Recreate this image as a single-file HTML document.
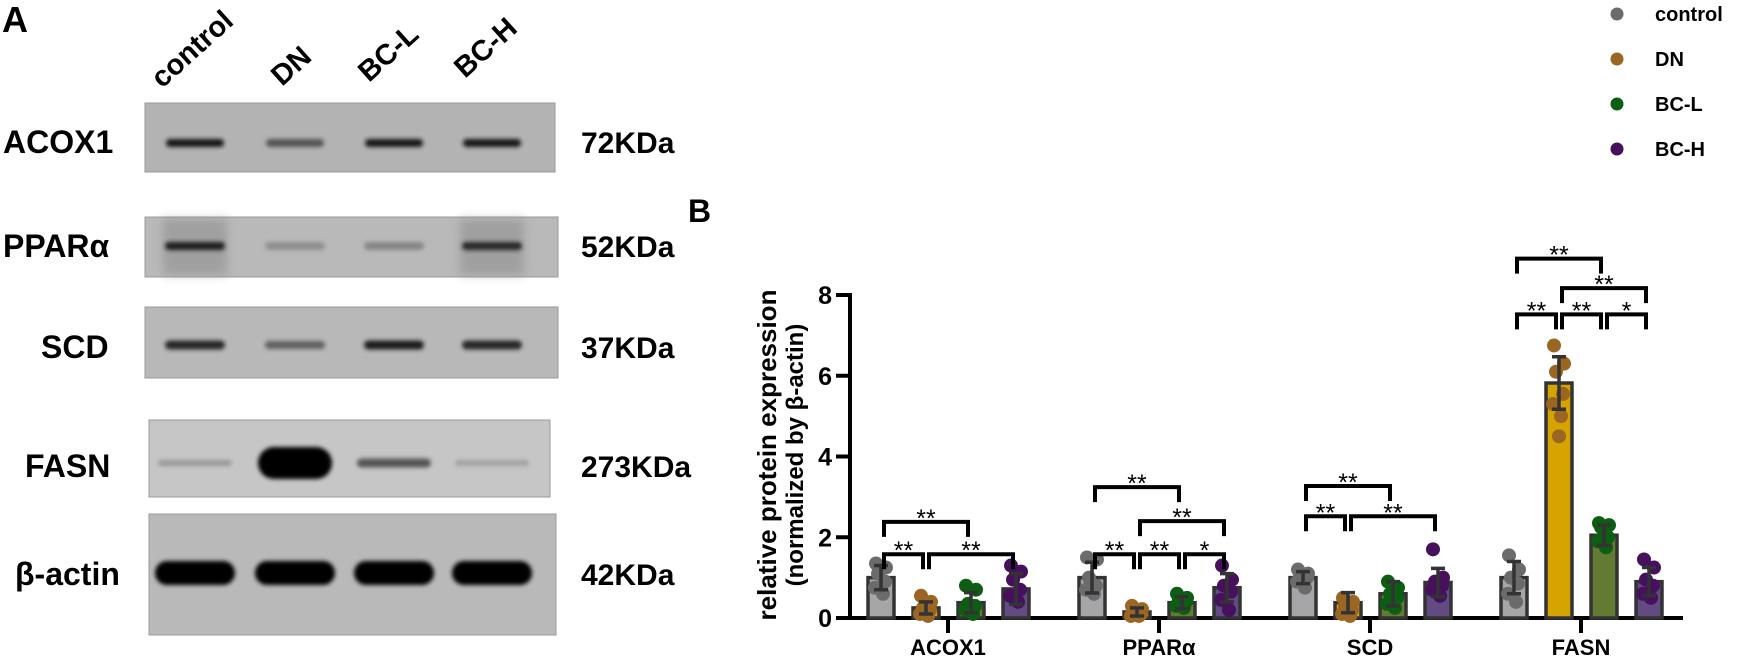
<!DOCTYPE html>
<html><head><meta charset="utf-8"><style>
html,body{margin:0;padding:0;background:#fff;}
svg{display:block;font-family:"Liberation Sans",Arial,sans-serif;}
</style></head><body>
<svg id="fig" width="1748" height="661" viewBox="0 0 1748 661" xmlns="http://www.w3.org/2000/svg">
<defs>
<filter id="blur2" x="-30%" y="-100%" width="160%" height="300%"><feGaussianBlur stdDeviation="2.2"/></filter>
<filter id="blur4" x="-30%" y="-100%" width="160%" height="300%"><feGaussianBlur stdDeviation="5"/></filter>
</defs>
<g id="panelA"></g>
<g id="panelB"></g>
</svg>
<script>
// ---- Chart data ----
const categories = ["ACOX1", "PPARα", "SCD", "FASN"];
const groups = ["control", "DN", "BC-L", "BC-H"];
const meansACOX1 = [1.0, 0.25, 0.38, 0.72];
const meansPPARa = [1.0, 0.15, 0.38, 0.75];
const meansSCD = [1.0, 0.38, 0.6, 0.88];
const meansFASN = [1.0, 5.82, 2.05, 0.9];
const errACOX1 = [0.3, 0.15, 0.25, 0.38];
const errPPARa = [0.38, 0.1, 0.15, 0.35];
const errSCD = [0.15, 0.25, 0.3, 0.35];
const errFASN = [0.4, 0.65, 0.25, 0.35];
const ptsACOX1 = [[1.35,1.25,1.1,0.9,0.75,0.6],[0.55,0.4,0.25,0.2,0.1,0.05],[0.8,0.7,0.35,0.3,0.2,0.1],[1.3,1.15,0.95,0.7,0.55,0.4]];
const ptsPPARa = [[1.5,1.45,1.0,0.8,0.7,0.6],[0.3,0.22,0.15,0.1,0.05,0.05],[0.6,0.5,0.45,0.4,0.3,0.25],[1.3,0.95,0.8,0.65,0.45,0.2]];
const ptsSCD = [[1.2,1.1,1.05,1.0,0.9,0.75],[0.5,0.4,0.3,0.2,0.1,0.05],[0.9,0.75,0.6,0.5,0.35,0.25],[1.7,1.0,0.9,0.8,0.7,0.55]];
const ptsFASN = [[1.55,1.2,1.0,0.85,0.6,0.4],[6.75,6.3,6.1,5.55,5.3,5.0,4.5],[2.35,2.3,2.25,2.0,1.9,1.75],[1.45,1.25,0.95,0.8,0.6,0.5]];
const yTicks = [0, 2, 4, 6, 8];
// brackets: [category index, from group, to group, y value, label]
const brackets = [
 [0,0,1,1.58,"**"],[0,1,3,1.58,"**"],[0,0,2,2.38,"**"],
 [1,0,1,1.58,"**"],[1,1,2,1.58,"**"],[1,2,3,1.58,"*"],[1,1,3,2.40,"**"],[1,0,2,3.24,"**"],
 [2,0,1,2.52,"**"],[2,1,3,2.52,"**"],[2,0,2,3.27,"**"],
 [3,0,1,7.52,"**"],[3,1,2,7.52,"**"],[3,2,3,7.52,"*"],[3,1,3,8.17,"**"],[3,0,2,8.9,"**"]
];
const means = [meansACOX1, meansPPARa, meansSCD, meansFASN];
const errs = [errACOX1, errPPARa, errSCD, errFASN];
const pts = [ptsACOX1, ptsPPARa, ptsSCD, ptsFASN];

const NS = "http://www.w3.org/2000/svg";
function mk(tag, attrs, parent, text){
  const e = document.createElementNS(NS, tag);
  for (const k in attrs) e.setAttribute(k, attrs[k]);
  if (text !== undefined) e.textContent = text;
  parent.appendChild(e); return e;
}

// ---- Panel A: western blot ----
const A = document.getElementById("panelA");
let t = mk("text",{x:2,y:32,"font-size":36,"font-weight":"bold"},A,"A");


const lanes = [["control",162,89],["DN",282,87],["BC-L",369,83],["BC-H",465,79]];
lanes.forEach(l=>{
  const e = mk("text",{x:l[1],y:l[2],"font-size":29,"font-weight":"bold",transform:`rotate(-42 ${l[1]} ${l[2]})`},A,l[0]);
  
  
});
const laneX = [195, 295, 394, 492];
const blots = [
  {name:"ACOX1",lx:3,ly:153,kd:"72KDa",x:145,y:103,w:410,h:69,bg:"#b3b3b3",by:143,bw:58,bh:8,int:[0.9,0.55,0.9,0.9],bhs:[8,8,8,8]},
  {name:"PPARα",lx:3,ly:257,kd:"52KDa",x:145,y:217,w:413,h:60,bg:"#b9b9b9",by:246,bw:60,bh:8,int:[0.85,0.25,0.3,0.8],bhs:[8,8,8,8]},
  {name:"SCD",lx:41,ly:358,kd:"37KDa",x:145,y:307,w:413,h:71,bg:"#b8b8b8",by:345,bw:60,bh:9,int:[0.8,0.5,0.85,0.8],bhs:[9,8,9,9]},
  {name:"FASN",lx:25,ly:477,kd:"273KDa",x:149,y:420,w:401,h:77,bg:"#c6c6c6",by:463,bw:74,bh:30,int:[0.2,1.0,0.55,0.15],bhs:[6,32,9,6]},
  {name:"β-actin",lx:15,ly:585,kd:"42KDa",x:149,y:514,w:407,h:121,bg:"#b9b9b9",by:573,bw:80,bh:24,int:[1,1,1,1],bhs:[24,24,24,24]}
];
blots.forEach(b=>{
  const g = mk("g",{},A);
  
  
  mk("rect",{x:b.x,y:b.y,width:b.w,height:b.h,fill:b.bg,stroke:"#9a9a9a","stroke-width":1},g);
  if (b.name==="PPARα"){
    [0,3].forEach(i=>mk("rect",{x:laneX[i]-32,y:b.y+2,width:64,height:b.h-4,fill:"#8a8a8a",opacity:0.55,filter:"url(#blur4)"},g));
  }
  b.int.forEach((v,i)=>{
    const c = Math.round(190 - v*190);
    const h = b.bhs[i];
    const band = mk("rect",{x:laneX[i]-b.bw/2,y:b.by-h/2,width:b.bw,height:h,rx:h/2,fill:`rgb(${c},${c},${c})`,filter:"url(#blur2)"},g);
    
    
  });
  const l = mk("text",{x:b.lx,y:b.ly,"font-size":32,"font-weight":"bold"},g,b.name);
  
  
  const k = mk("text",{x:581,y:b.ly,"font-size":30,"font-weight":"bold"},g,b.kd);
  
  
});

// ---- Panel B: bar chart ----
const B = document.getElementById("panelB");
const axX = 850, y0 = 618, y8 = 295;
const yS = v => y0 - (v/8)*(y0-y8);
const catX = i => 948 + i*211;
const grpOff = [-67, -22, 23, 68];
const barFill = ["#a6a6a8", "#d6a400", "#637a33", "#614b82"];
const dotFill = ["#6b6b6b", "#9b6522", "#0b5e12", "#46105c"];

t = mk("text",{x:688,y:222,"font-size":32,"font-weight":"bold"},B,"B");



const yt = mk("text",{transform:`translate(776 455) rotate(-90)`,"text-anchor":"middle","font-size":26,"font-weight":"bold"},B);


mk("tspan",{x:0,y:0},yt,"relative protein expression");
mk("tspan",{x:0,y:27,"font-size":24},yt,"(normalized by β-actin)");

let ax = mk("line",{x1:axX,y1:y8-2,x2:axX,y2:y0+2,stroke:"#000","stroke-width":4},B);


ax = mk("line",{x1:axX-2,y1:y0,x2:1683,y2:y0,stroke:"#000","stroke-width":4},B);


yTicks.forEach(v=>{
  const tl = mk("line",{x1:axX-14,y1:yS(v),x2:axX,y2:yS(v),stroke:"#000","stroke-width":4},B);
  
  
  const tx = mk("text",{x:axX-18,y:yS(v)+9,"text-anchor":"end","font-size":25,"font-weight":"bold"},B,String(v));
  
  
});
categories.forEach((c,i)=>{
  const tl = mk("line",{x1:catX(i),y1:y0,x2:catX(i),y2:y0+15,stroke:"#000","stroke-width":4},B);
  
  
  const tx = mk("text",{x:catX(i),y:655,"text-anchor":"middle","font-size":22,"font-weight":"bold"},B,c);
  
  
});

const jit = [-5, 5, -3, 4, -6, 2, 0];
categories.forEach((c,ci)=>{
  groups.forEach((g,gi)=>{
    const cx = catX(ci) + grpOff[gi];
    const m = means[ci][gi], e = errs[ci][gi];
    const bar = mk("rect",{x:cx-13,y:yS(m),width:26,height:y0-yS(m),fill:barFill[gi],stroke:"#333","stroke-width":3.5},B);
    
    
    pts[ci][gi].forEach((v,k)=>{
      const d = mk("circle",{cx:cx+jit[k%jit.length],cy:yS(v),r:7,fill:dotFill[gi]},B);
      
      
    });
    const eg = mk("path",{d:`M${cx} ${yS(m-e)}V${yS(m+e)}M${cx-7} ${yS(m+e)}H${cx+7}M${cx-7} ${yS(m-e)}H${cx+7}`,stroke:"#333","stroke-width":3.5,fill:"none"},B);
    
    
  });
});

brackets.forEach(b=>{
  const x1 = catX(b[0]) + grpOff[b[1]] + 3, x2 = catX(b[0]) + grpOff[b[2]] - 3, y = yS(b[3]);
  const p = mk("path",{d:`M${x1} ${y+15}V${y}H${x2}V${y+15}`,stroke:"#000","stroke-width":4,fill:"none"},B);
  
  
  const s = mk("text",{x:(x1+x2)/2,y:y+5,"text-anchor":"middle","font-size":25},B,b[4]);
  
  
});

groups.forEach((g,i)=>{
  const lg = mk("g",{},B);
  
  
  mk("circle",{cx:1617,cy:14+i*45,r:6.5,fill:dotFill[i]},lg);
  mk("text",{x:1655,y:21+i*45,"font-size":20,"font-weight":"bold"},lg,g);
});
</script>
</body></html>
